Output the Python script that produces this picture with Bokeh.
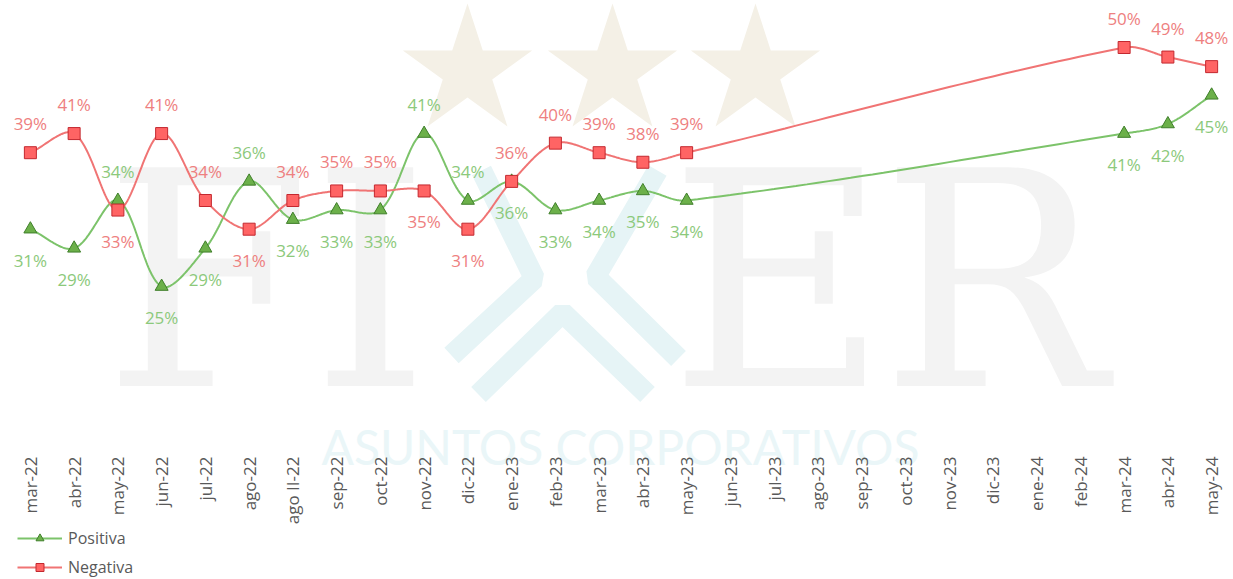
import math
import numpy as np
from bokeh.plotting import figure
from bokeh.layouts import column
from bokeh.models import (FixedTicker, Range1d, Legend, LegendItem, ColumnDataSource)
from bokeh.core.properties import value
from bokeh.embed import file_html
from bokeh.resources import INLINE

# ---------------- data ----------------
categories = ["mar-22", "abr-22", "may-22", "jun-22", "jul-22", "ago-22", "ago II-22",
              "sep-22", "oct-22", "nov-22", "dic-22", "ene-23", "feb-23", "mar-23",
              "abr-23", "may-23", "jun-23", "jul-23", "ago-23", "sep-23", "oct-23",
              "nov-23", "dic-23", "ene-24", "feb-24", "mar-24", "abr-24", "may-24"]
positiva = [31, 29, 34, 25, 29, 36, 32, 33, 33, 41, 34, 36, 33, 34, 35, 34,
            None, None, None, None, None, None, None, None, None, 41, 42, 45]
negativa = [39, 41, 33, 41, 34, 31, 34, 35, 35, 35, 31, 36, 40, 39, 38, 39,
            None, None, None, None, None, None, None, None, None, 50, 49, 48]

# label placement (style): a = above marker, b = below marker
pos_place = ["b", "b", "a", "b", "b", "a", "b", "b", "b", "a", "a", "b", "b", "b", "b", "b",
             "", "", "", "", "", "", "", "", "", "b", "b", "b"]
neg_place = ["a", "a", "b", "a", "a", "b", "a", "a", "a", "b", "b", "a", "a", "a", "a", "a",
             "", "", "", "", "", "", "", "", "", "a", "a", "a"]

# ---------------- geometry ----------------
LEFT = 8
FRAME_W, FRAME_H = 1225, 465
PXU_X = FRAME_W / len(categories)
PXU_Y = 9.5625
Y1 = 50 + 47 / PXU_Y
Y0 = Y1 - FRAME_H / PXU_Y


def dx(px):  # page pixel -> data x (decorations only)
    return (px - LEFT) / PXU_X - 0.5


def dy(py):  # page pixel -> data y (decorations only)
    return Y1 - py / PXU_Y


def smooth(xs, ys, n=40):
    # Bezier smoothing with distance-weighted tangents (computed in pixel space)
    P = [np.array([x * PXU_X, y * PXU_Y]) for x, y in zip(xs, ys)]
    m = len(P)
    d = [np.linalg.norm(P[i + 1] - P[i]) for i in range(m - 1)]
    ox, oy = [], []
    for i in range(m - 1):
        p1, p2 = P[i], P[i + 1]
        if i > 0:
            c1 = p1 + (p2 - P[i - 1]) * d[i] / (3 * (d[i - 1] + d[i]))
        else:
            c1 = p1 + (p2 - p1) / 3
        if i + 2 < m:
            c2 = p2 - (P[i + 2] - p1) * d[i] / (3 * (d[i] + d[i + 1]))
        else:
            c2 = p2 - (p2 - p1) / 3
        for t in np.linspace(0, 1, n, endpoint=(i == m - 2)):
            q = (1 - t) ** 3 * p1 + 3 * t * (1 - t) ** 2 * c1 + 3 * t * t * (1 - t) * c2 + t ** 3 * p2
            ox.append(q[0] / PXU_X)
            oy.append(q[1] / PXU_Y)
    return ox, oy


p = figure(frame_width=FRAME_W, frame_height=FRAME_H, output_backend="svg",
           toolbar_location=None, y_axis_location=None,
           x_range=Range1d(-0.5, len(categories) - 0.5), y_range=Range1d(Y0, Y1),
           min_border_left=LEFT, min_border_right=0, min_border_top=0,
           min_border_bottom=0)
p.outline_line_color = None
p.xgrid.visible = False
p.ygrid.visible = False
p.background_fill_color = "white"
p.border_fill_color = "white"

# ---------------- watermark (decoration) ----------------
star_xs, star_ys = [], []
for cx in (467, 612, 755):
    cy, R, r = 71, 68, 26
    xs, ys = [], []
    for k in range(10):
        ang = math.pi / 2 + k * math.pi / 5
        rad = R if k % 2 == 0 else r
        xs.append(dx(cx + rad * math.cos(ang)))
        ys.append(dy(cy - rad * math.sin(ang)))
    star_xs.append(xs)
    star_ys.append(ys)
p.patches(star_xs, star_ys, fill_color="#f4f0e6", line_color=None)

for ch, cx in (("F", 207), ("I", 370), ("E", 778), ("R", 993)):
    p.text(x=[dx(cx)], y=[dy(282)], text=[ch], text_font=value("DejaVu Serif"),
           text_font_size="300px", text_color="#f3f3f3", text_align="center",
           text_baseline="middle")

chev_x = [[dx(481), dx(534), dx(451)], [dx(657), dx(595), dx(678)],
          [dx(478), dx(562), dx(647)]]
chev_y = [[dy(170), dy(278), dy(355)], [dy(170), dy(276), dy(358)],
          [dy(394), dy(312), dy(394)]]
p.multi_line(chev_x, chev_y, line_color="#e6f4f6", line_width=21)

p.text(x=[dx(620)], y=[dy(446)], text=["ASUNTOS CORPORATIVOS"],
       text_font=value("Lato"), text_font_size="48px", text_color="#eaf6f8",
       text_align="center", text_baseline="middle")

# ---------------- series ----------------
idx = list(range(len(categories)))
GREEN_LINE, GREEN_FILL, GREEN_EDGE, GREEN_TXT = "#7cc36a", "#6cb04a", "#3f7f2a", "#8cc97b"
RED_LINE, RED_FILL, RED_EDGE, RED_TXT = "#f07474", "#ff6464", "#c3282f", "#ee8080"

series = (("Positiva", positiva, pos_place, GREEN_LINE, GREEN_FILL, GREEN_EDGE, GREEN_TXT, "triangle", 13),
          ("Negativa", negativa, neg_place, RED_LINE, RED_FILL, RED_EDGE, RED_TXT, "square", 12))

for name, vals, place, lc, fc, ec, tc, marker, msize in series:
    xs = [i for i, v in zip(idx, vals) if v is not None]
    ys = [v for v in vals if v is not None]
    sx, sy = smooth(xs, ys)
    p.line(sx, sy, line_color=lc, line_width=2)
    p.scatter(xs, ys, marker=marker, size=msize, fill_color=fc, line_color=ec,
              line_width=1)
    for key, off in (("a", -29), ("b", 31)):
        sel = [i for i in xs if place[i] == key]
        src = ColumnDataSource(dict(x=sel, y=[vals[i] for i in sel],
                                    t=[f"{vals[i]}%" for i in sel]))
        p.text(x="x", y="y", text="t", source=src, y_offset=off,
               text_font=value("Open Sans"), text_font_size="17px", text_color=tc,
               text_align="center", text_baseline="middle")

# ---------------- axis ----------------
ax = p.xaxis[0]
ax.ticker = FixedTicker(ticks=idx)
ax.major_label_overrides = {i: c for i, c in enumerate(categories)}
ax.major_label_orientation = math.pi / 2
ax.major_label_standoff = -15
ax.major_label_text_font = "Open Sans"
ax.major_label_text_font_size = "17px"
ax.major_label_text_color = "#595959"
ax.axis_line_color = None
ax.major_tick_line_color = None
ax.minor_tick_line_color = None

# ---------------- legend (separate strip below the chart) ----------------
# the series are drawn here too, but outside this strip's visible ranges,
# so that only their legend entries show
LF_H = 51
lf = figure(width=330, height=LF_H, output_backend="svg", toolbar_location=None,
            x_axis_location=None, y_axis_location=None,
            x_range=Range1d(100, 101), y_range=Range1d(100, 101),
            min_border_left=LEFT, min_border_right=0, min_border_top=0,
            min_border_bottom=0)
lf.outline_line_color = None
lf.xgrid.visible = False
lf.ygrid.visible = False
lf.background_fill_color = "white"
lf.border_fill_color = "white"

items = []
for name, vals, place, lc, fc, ec, tc, marker, msize in series:
    xs = [i for i, v in zip(idx, vals) if v is not None]
    ys = [v for v in vals if v is not None]
    r_ln = lf.line(xs, ys, line_color=lc, line_width=2)
    r_sc = lf.scatter(xs, ys, marker=marker, size=msize, fill_color=fc,
                      line_color=ec, line_width=1)
    items.append(LegendItem(label=name, renderers=[r_ln, r_sc]))

legend = Legend(items=items, location=(9, 0), orientation="vertical",
                padding=0, margin=0, spacing=7, glyph_width=45, glyph_height=20,
                label_height=20, label_standoff=6, label_text_font="Open Sans",
                label_text_font_size="16px", label_text_color="#595959",
                border_line_alpha=0, background_fill_alpha=0)
lf.add_layout(legend, "center")

open("out.html", "w").write(file_html(column(p, lf, spacing=0), INLINE))
